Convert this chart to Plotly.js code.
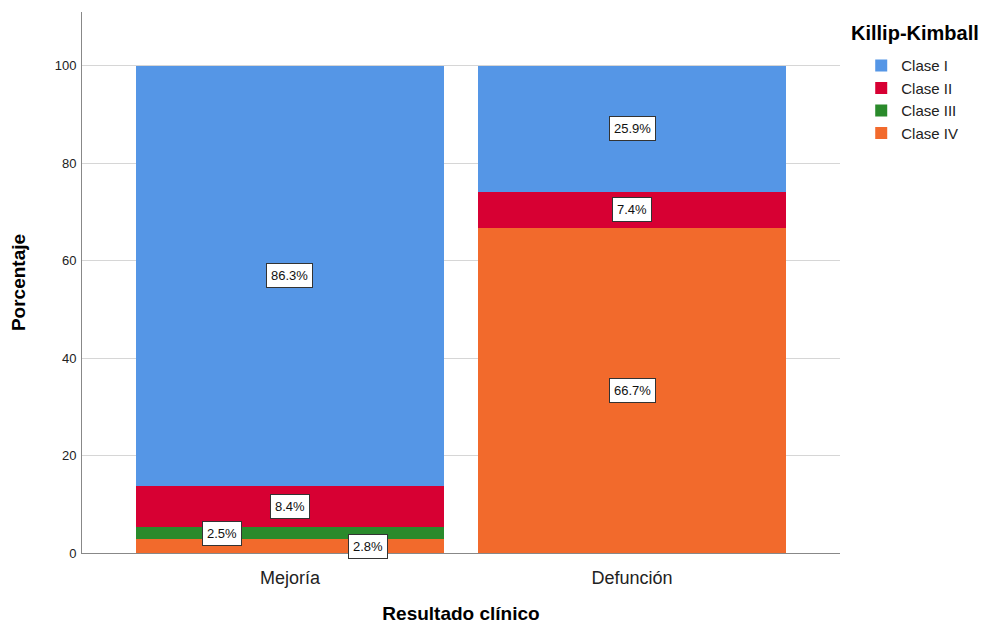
<!DOCTYPE html>
<html>
<head>
<meta charset="utf-8">
<script src="https://cdn.plot.ly/plotly-3.0.1.min.js"></script>
<style>html,body{margin:0;padding:0;background:#fff;}#chart{width:986px;height:624px;}</style>
</head>
<body>
<div id="chart"></div>
<script>
const categories = ["Mejoría", "Defunción"];
const seriesNames = ["Clase I", "Clase II", "Clase III", "Clase IV"];
const claseI = [86.3, 25.9];
const claseII = [8.4, 7.4];
const claseIII = [2.5, 0];
const claseIV = [2.8, 66.7];
const colors = ["#5596E6", "#D70033", "#2A8A2B", "#F26A2C"];
const yTicks = [0, 20, 40, 60, 80, 100];
const legendTitle = "Killip-Kimball";

const values = [claseI, claseII, claseIII, claseIV];
// stack order bottom->top: IV, III, II, I
const stackOrder = [3, 2, 1, 0];
const traces = stackOrder.map(i => ({
  type: "bar",
  name: seriesNames[i],
  x: categories,
  y: values[i],
  marker: {color: colors[i], line: {width: 0}},
  width: 0.898,
  hoverinfo: "x+y+name"
}));

const FONT = "Liberation Sans, Arial, sans-serif";
// label offsets for thin segments (style only)
const xShifts = {"0-2": -68, "0-3": 78};
const yShifts = {"0-2": 0, "0-3": 0};
const annotations = [];
categories.forEach((cat, c) => {
  let base = 0;
  stackOrder.forEach(i => {
    const v = values[i][c];
    if (v > 0) {
      const key = c + "-" + i;
      annotations.push({
        x: cat, y: base + v / 2, xref: "x", yref: "y",
        text: v.toFixed(1) + "%", showarrow: false,
        font: {family: FONT, size: 13, color: "#111"},
        bgcolor: "#ffffff", bordercolor: "#333333", borderwidth: 1, borderpad: 4,
        xshift: xShifts[key] || 0, yshift: yShifts[key] || 0
      });
    }
    base += v;
  });
});
annotations.push({
  xref: "paper", yref: "paper", x: 1.012, y: 1.0, xanchor: "left", yanchor: "top",
  yshift: -8,
  text: "<b>" + legendTitle + "</b>", showarrow: false,
  font: {family: FONT, size: 20, color: "#000"}
});

const layout = {
  width: 986, height: 624,
  margin: {l: 82, r: 146, t: 12, b: 71},
  paper_bgcolor: "#fff", plot_bgcolor: "#fff",
  barmode: "stack",
  font: {family: FONT, color: "#000"},
  xaxis: {
    type: "category",
    range: [-0.608, 1.608],
    showline: true, linecolor: "#888", linewidth: 1,
    showgrid: false, ticks: "",
    ticklabelstandoff: 8,
    tickfont: {size: 18, color: "#222"},
    title: {text: "<b>Resultado clínico</b>", font: {size: 19}, standoff: 24},
    fixedrange: true
  },
  yaxis: {
    range: [0, 111],
    tickvals: yTicks, ticktext: yTicks.map(String),
    showline: true, linecolor: "#888", linewidth: 1,
    showgrid: true, gridcolor: "#d6d6d6", gridwidth: 1,
    zeroline: false, ticks: "", ticklen: 0,
    ticklabelstandoff: 2,
    tickfont: {size: 13, color: "#222"},
    title: {text: "<b>Porcentaje</b>", font: {size: 19}, standoff: 24},
    fixedrange: true
  },
  legend: {
    x: 1.028, y: 0.931, xanchor: "left", yanchor: "top",
    traceorder: "reversed",
    font: {size: 15, color: "#222"},
    itemwidth: 30, tracegroupgap: 0
  },
  annotations: annotations,
  bargap: 0
};

Plotly.newPlot("chart", traces, layout, {displayModeBar: false, staticPlot: true});
</script>
</body>
</html>
